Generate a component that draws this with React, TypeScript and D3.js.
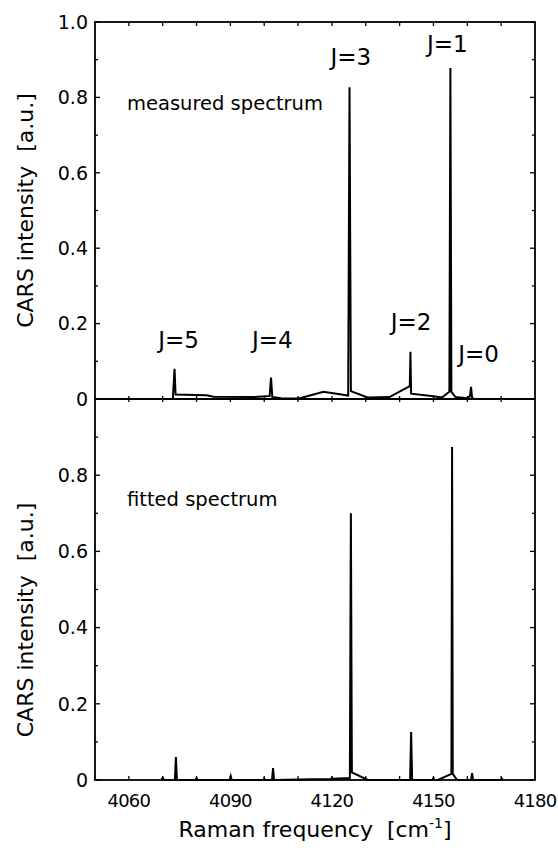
import React, { useRef, useEffect } from "react";
import * as d3 from "d3";

// measured spectrum (top panel): Raman shift [cm-1] and intensity [a.u.]
const measuredX = [
  4073.0, 4073.5, 4073.8, 4083.0, 4085.0, 4097.0, 4101.6, 4102.0, 4102.4, 4105.0,
  4110.0, 4117.5, 4124.8, 4125.2, 4125.6, 4130.5, 4137.0, 4143.0, 4143.2, 4143.4,
  4150.0, 4152.5, 4154.7, 4155.0, 4155.3, 4156.5, 4160.0, 4160.8, 4161.1, 4161.4, 4162.0,
];
const measuredY = [
  0.0, 0.08, 0.012, 0.01, 0.006, 0.005, 0.008, 0.057, 0.005, 0.002,
  0.001, 0.019, 0.009, 0.827, 0.021, 0.004, 0.005, 0.034, 0.125, 0.014,
  0.007, 0.004, 0.019, 0.878, 0.019, 0.005, 0.002, 0.008, 0.032, 0.004, 0.0,
];

// fitted spectrum (bottom panel)
const fittedX = [
  4069.6, 4070.0, 4070.4, 4073.6, 4073.9, 4074.2, 4079.7, 4080.0, 4080.3, 4089.8,
  4090.1, 4090.4, 4099.7, 4100.0, 4100.3, 4102.3, 4102.6, 4102.9, 4114.0, 4119.7,
  4120.0, 4120.3, 4125.3, 4125.6, 4125.9, 4130.6, 4143.1, 4143.4, 4143.7, 4149.7,
  4150.0, 4150.3, 4151.3, 4155.3, 4155.5, 4155.7, 4157.0, 4161.1, 4161.4, 4161.7,
  4169.9, 4170.2, 4170.5,
];
const fittedY = [
  0.0, 0.006, 0.0, 0.0, 0.06, 0.0, 0.0, 0.005, 0.0, 0.0,
  0.01, 0.0, 0.0, 0.004, 0.0, 0.0, 0.031, 0.0, 0.002, 0.002,
  0.006, 0.003, 0.005, 0.7, 0.02, 0.0, 0.0, 0.126, 0.0, 0.0,
  0.005, 0.0, 0.0, 0.016, 0.874, 0.016, 0.0, 0.0, 0.018, 0.0,
  0.0, 0.004, 0.0,
];

const xTickLabels = [4060, 4090, 4120, 4150, 4180];
const xMinorTicks = [4060, 4070, 4080, 4090, 4100, 4110, 4120, 4130, 4140, 4150, 4160, 4170];
const topYTicks = [0, 0.2, 0.4, 0.6, 0.8, 1.0];
const bottomYTicks = [0, 0.2, 0.4, 0.6, 0.8];

const peakLabels = ["J=5", "J=4", "J=3", "J=2", "J=1", "J=0"];
const peakLabelX = [4074.7, 4102.4, 4125.6, 4143.4, 4154.1, 4163.3];
const peakLabelY = [0.135, 0.135, 0.886, 0.183, 0.92, 0.098];

const FONT = "'DejaVu Sans', sans-serif";

const App = () => {
  const svgRef = useRef<SVGSVGElement>(null);

  useEffect(() => {
    const svg = d3.select(svgRef.current);
    svg.selectAll("*").remove();

    const left = 95;
    const right = 535;
    const top = 22;
    const mid = 399;
    const bottom = 780;

    const x = d3.scaleLinear().domain([4050, 4180]).range([left, right]);
    const yTop = d3.scaleLinear().domain([0, 1]).range([mid, top]);
    const yBot = d3.scaleLinear().domain([0, 1]).range([bottom, mid]);

    // spectra
    const drawSeries = (xs: number[], vals: number[], ys: d3.ScaleLinear<number, number>) => {
      const pts: [number, number][] = xs.map((v, i) => [v, vals[i]]);
      const gen = d3
        .line<[number, number]>()
        .x((d) => x(d[0]))
        .y((d) => ys(d[1]));
      svg
        .append("path")
        .attr("d", gen(pts))
        .attr("fill", "none")
        .attr("stroke", "#000")
        .attr("stroke-width", 2)
        .attr("stroke-linejoin", "miter");
    };
    drawSeries(measuredX, measuredY, yTop);
    drawSeries(fittedX, fittedY, yBot);

    const tickG = svg.append("g").attr("stroke", "#000").attr("stroke-width", 1.3);

    // x ticks on top, middle and bottom edges
    xMinorTicks.forEach((v) => {
      const px = x(v);
      tickG.append("line").attr("x1", px).attr("x2", px).attr("y1", top).attr("y2", top + 4);
      tickG.append("line").attr("x1", px).attr("x2", px).attr("y1", mid - 3).attr("y2", mid + 3);
      tickG.append("line").attr("x1", px).attr("x2", px).attr("y1", bottom).attr("y2", bottom - 4);
    });

    // y ticks, both panels, both sides
    [yTop, yBot].forEach((ys) => {
      d3.range(0, 11).forEach((k) => {
        const v = k / 10;
        const major = k % 2 === 0;
        const len = major ? 5 : 3;
        const py = ys(v);
        tickG.append("line").attr("x1", left).attr("x2", left + len).attr("y1", py).attr("y2", py);
        tickG.append("line").attr("x1", right).attr("x2", right - len).attr("y1", py).attr("y2", py);
      });
    });

    // frame
    const frame = svg.append("g").attr("stroke", "#000").attr("stroke-width", 1.8).attr("fill", "none");
    frame.append("rect").attr("x", left).attr("y", top).attr("width", right - left).attr("height", bottom - top);
    frame.append("line").attr("x1", left).attr("x2", right).attr("y1", mid).attr("y2", mid);

    // y tick labels
    const yLabel = (ys: d3.ScaleLinear<number, number>, ticks: number[]) => {
      svg
        .append("g")
        .selectAll("text")
        .data(ticks)
        .join("text")
        .attr("x", left - 7)
        .attr("y", (d) => ys(d))
        .attr("dy", "0.36em")
        .attr("text-anchor", "end")
        .style("font-family", FONT)
        .style("font-size", "19px")
        .text((d) => (d === 0 ? "0" : d3.format(".1f")(d)));
    };
    yLabel(yTop, topYTicks);
    yLabel(yBot, bottomYTicks);

    // x tick labels
    svg
      .append("g")
      .selectAll("text")
      .data(xTickLabels)
      .join("text")
      .attr("x", (d) => x(d))
      .attr("y", bottom + 27)
      .attr("text-anchor", "middle")
      .style("font-family", FONT)
      .style("font-size", "18px")
      .style("letter-spacing", "-0.8px")
      .text((d) => d);

    // peak labels
    svg
      .append("g")
      .selectAll("text")
      .data(peakLabels)
      .join("text")
      .attr("x", (d, i) => x(peakLabelX[i]))
      .attr("y", (d, i) => yTop(peakLabelY[i]))
      .attr("text-anchor", "middle")
      .style("font-family", FONT)
      .style("font-size", "23px")
      .text((d) => d);

    // panel captions
    svg
      .append("text")
      .attr("x", 127)
      .attr("y", 110)
      .style("font-family", FONT)
      .style("font-size", "19.5px")
      .text("measured spectrum");
    svg
      .append("text")
      .attr("x", 127)
      .attr("y", 506)
      .style("font-family", FONT)
      .style("font-size", "19.5px")
      .text("fitted spectrum");

    // axis titles
    const yTitle = (cy: number) => {
      svg
        .append("text")
        .attr("transform", `translate(33,${cy}) rotate(-90)`)
        .attr("text-anchor", "middle")
        .style("font-family", FONT)
        .style("font-size", "22px")
        .style("white-space", "pre")
        .text("CARS intensity  [a.u.]");
    };
    yTitle(yTop(0.5));
    yTitle(yBot(0.42));

    const xt = svg
      .append("text")
      .attr("x", (left + right) / 2)
      .attr("y", 837)
      .attr("text-anchor", "middle")
      .style("font-family", FONT)
      .style("font-size", "22px")
      .style("white-space", "pre");
    xt.append("tspan").text("Raman frequency  [cm");
    xt.append("tspan").attr("dy", -9).style("font-size", "14px").text("-1");
    xt.append("tspan").attr("dy", 9).text("]");

    return () => {
      svg.selectAll("*").remove();
    };
  }, []);

  return (
    <div style={{ position: "absolute", left: 0, top: 0, background: "#fff" }}>
      <svg ref={svgRef} width={558} height={854} style={{ display: "block" }} />
    </div>
  );
};

export default App;
